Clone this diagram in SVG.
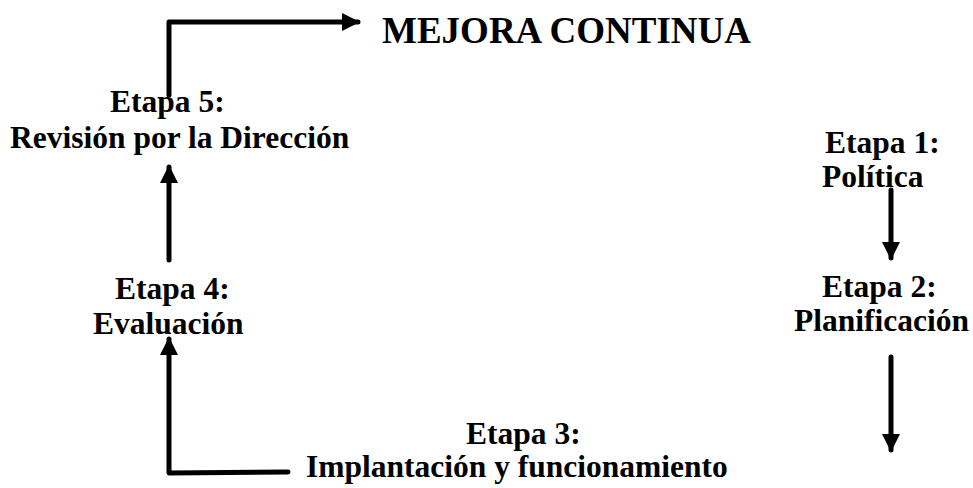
<svg xmlns="http://www.w3.org/2000/svg" width="973" height="488" viewBox="0 0 973 488">
<style>
text{font-family:"Times New Roman","Liberation Serif","DejaVu Serif",serif;font-weight:bold;fill:#000}
.lbl{font-size:31.5px}
.title{font-size:37px}
.ln{fill:none;stroke:#000;stroke-width:5;stroke-linejoin:round;stroke-linecap:round}
</style>
<defs>
<marker id="ah" viewBox="0 0 18 18" refX="16" refY="9" markerWidth="18" markerHeight="18" markerUnits="userSpaceOnUse" orient="auto">
<path d="M0,0 L18,9 L0,18 Z" fill="#000"/>
</marker>
</defs>
<rect width="973" height="488" fill="#fff"/>
<g id="connectors">
<path class="ln" d="M169,95 L169,22 L358,22" marker-end="url(#ah)"/>
<path class="ln" d="M169,260 L169,167" marker-end="url(#ah)"/>
<path class="ln" d="M288,472 L169,473 L169,339" marker-end="url(#ah)"/>
<path class="ln" d="M891,190 L891,258" marker-end="url(#ah)"/>
<path class="ln" d="M891,357 L891,450" marker-end="url(#ah)"/>
</g>
<g id="mejora"><text class="title" x="382" y="43">MEJORA CONTINUA</text></g>
<g id="etapa5"><text class="lbl" x="110" y="112">Etapa 5:</text><text class="lbl" x="10" y="148">Revisión por la Dirección</text></g>
<g id="etapa1"><text class="lbl" x="825" y="153">Etapa 1:</text><text class="lbl" x="822" y="187">Política</text></g>
<g id="etapa4"><text class="lbl" x="115" y="299">Etapa 4:</text><text class="lbl" x="93" y="334">Evaluación</text></g>
<g id="etapa2"><text class="lbl" x="822" y="297">Etapa 2:</text><text class="lbl" x="794" y="331">Planificación</text></g>
<g id="etapa3"><text class="lbl" x="466" y="444">Etapa 3:</text><text class="lbl" x="306" y="477">Implantación y funcionamiento</text></g>
</svg>
